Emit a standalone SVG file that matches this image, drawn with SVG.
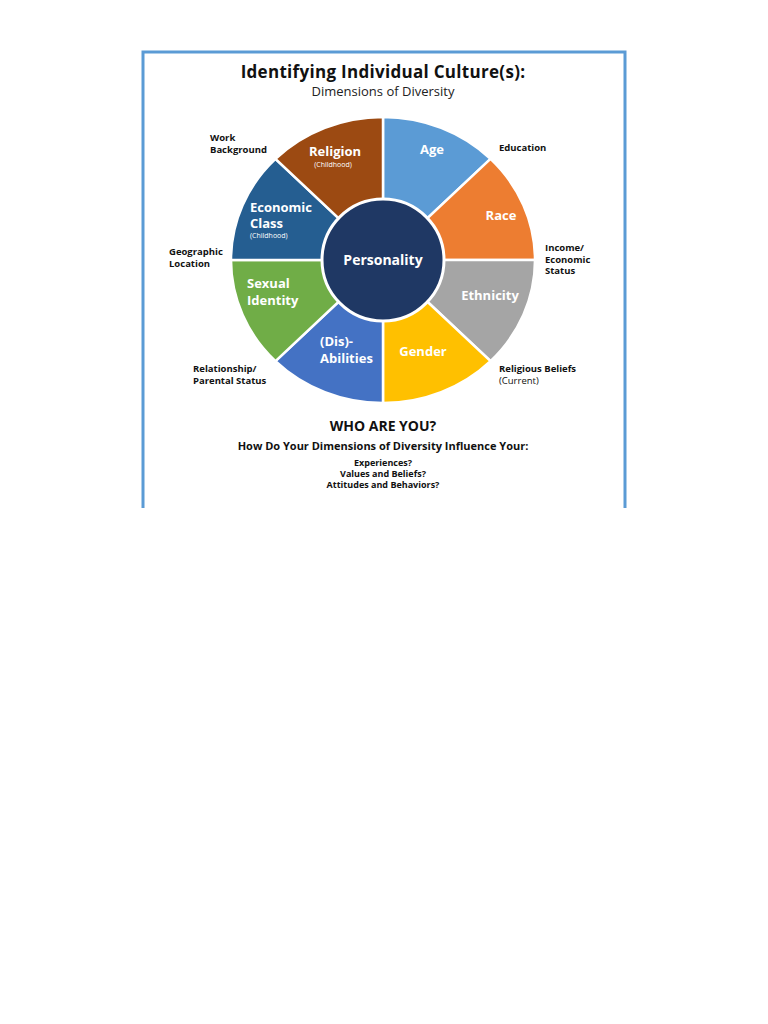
<svg xmlns="http://www.w3.org/2000/svg" width="768" height="1024" viewBox="0 0 768 1024">
<style>
text{font-family:"Open Sans","Liberation Sans",sans-serif;font-weight:bold}
.seg{stroke:#fff;stroke-width:2.5}
.w{fill:#fff}
.k{fill:#111;font-size:9.5px}
.s{font-size:13px}
</style>
<rect width="768" height="1024" fill="#fff"/>
<path d="M143,508 V52 H625 V508" fill="none" stroke="#5b9bd5" stroke-width="3"/>
<text x="383" y="78" text-anchor="middle" font-size="17" letter-spacing="0.3" fill="#111">Identifying Individual Culture(s):</text>
<text x="383" y="96" text-anchor="middle" font-size="13" style="font-weight:normal" fill="#222">Dimensions of Diversity</text>
<g id="age"><path class="seg" fill="#5b9bd5" d="M383,260 L383,117 A152,143 0 0 1 490.5,158.9 Z"/><text class="w s" x="432" y="154" text-anchor="middle">Age</text></g>
<g id="race"><path class="seg" fill="#ed7d31" d="M383,260 L490.5,158.9 A152,143 0 0 1 535,260 Z"/><text class="w s" x="501" y="220" text-anchor="middle">Race</text></g>
<g id="ethnicity"><path class="seg" fill="#a5a5a5" d="M383,260 L535,260 A152,143 0 0 1 490.5,361.1 Z"/><text class="w s" x="490" y="300" text-anchor="middle">Ethnicity</text></g>
<g id="gender"><path class="seg" fill="#ffc000" d="M383,260 L490.5,361.1 A152,143 0 0 1 383,403 Z"/><text class="w s" x="423" y="356" text-anchor="middle">Gender</text></g>
<g id="abilities"><path class="seg" fill="#4472c4" d="M383,260 L383,403 A152,143 0 0 1 275.5,361.1 Z"/><text class="w s" x="320" y="346">(Dis)-</text><text class="w s" x="320" y="363">Abilities</text></g>
<g id="sexual"><path class="seg" fill="#70ad47" d="M383,260 L275.5,361.1 A152,143 0 0 1 231,260 Z"/><text class="w s" x="247" y="288">Sexual</text><text class="w s" x="247" y="305">Identity</text></g>
<g id="economic"><path class="seg" fill="#255e91" d="M383,260 L231,260 A152,143 0 0 1 275.5,158.9 Z"/><text class="w s" x="250" y="212">Economic</text><text class="w s" x="250" y="228">Class</text><text class="w" x="250" y="238" font-size="7" style="font-weight:normal">(Childhood)</text></g>
<g id="religion"><path class="seg" fill="#9c4a12" d="M383,260 L275.5,158.9 A152,143 0 0 1 383,117 Z"/><text class="w s" x="335" y="156" text-anchor="middle">Religion</text><text class="w" x="333" y="167" font-size="7" text-anchor="middle" style="font-weight:normal">(Childhood)</text></g>
<g id="personality"><circle cx="383" cy="260" r="61" fill="#1f3864" stroke="#fff" stroke-width="3"/><text class="w" x="383" y="265" font-size="14" text-anchor="middle">Personality</text></g>
<g id="labels">
<text class="k" x="210" y="141">Work</text><text class="k" x="210" y="153">Background</text>
<text class="k" x="499" y="151">Education</text>
<text class="k" x="169" y="255">Geographic</text><text class="k" x="169" y="267">Location</text>
<text class="k" x="545" y="251">Income/</text><text class="k" x="545" y="262.5">Economic</text><text class="k" x="545" y="274">Status</text>
<text class="k" x="193" y="372">Relationship/</text><text class="k" x="193" y="384">Parental Status</text>
<text class="k" x="499" y="372">Religious Beliefs</text><text class="k" x="499" y="384" style="font-weight:normal">(Current)</text>
</g>
<text x="383" y="431" text-anchor="middle" font-size="14" fill="#111">WHO ARE YOU?</text>
<text x="383" y="450" text-anchor="middle" font-size="11" fill="#111">How Do Your Dimensions of Diversity Influence Your:</text>
<text x="383" y="466" text-anchor="middle" font-size="9" fill="#111">Experiences?</text>
<text x="383" y="477" text-anchor="middle" font-size="9" fill="#111">Values and Beliefs?</text>
<text x="383" y="488" text-anchor="middle" font-size="9" fill="#111">Attitudes and Behaviors?</text>
</svg>
